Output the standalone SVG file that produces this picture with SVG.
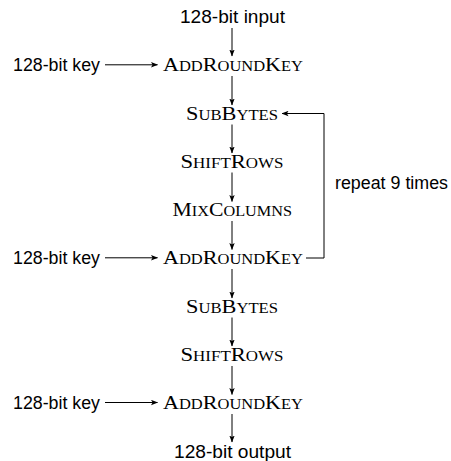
<svg xmlns="http://www.w3.org/2000/svg" width="451" height="461" viewBox="0 0 451 461">
<defs>
<style>
.sans{font-family:"Liberation Sans",Arial,sans-serif;font-size:18.3px;fill:#000}
.sc{font-family:"Liberation Serif","Times New Roman",serif;font-size:19px;fill:#000}
.sm{font-size:14.2px}
.conn path{fill:none;stroke:#000;stroke-width:1}
</style>
<marker id="ah" viewBox="0 0 7 6" markerWidth="7" markerHeight="6" refX="6.5" refY="3" orient="auto" markerUnits="userSpaceOnUse">
<path d="M0,0.3 L7,3 L0,5.7 L1.6,3 Z" fill="#000"/>
</marker>
</defs>
<rect width="451" height="461" fill="#fff"/>
<g id="connectors" class="conn">
<path d="M232,28 V56" marker-end="url(#ah)"/>
<path d="M232,76 V105" marker-end="url(#ah)"/>
<path d="M232,124.5 V153" marker-end="url(#ah)"/>
<path d="M232,172.5 V201.5" marker-end="url(#ah)"/>
<path d="M232,221 V249.5" marker-end="url(#ah)"/>
<path d="M232,269 V298" marker-end="url(#ah)"/>
<path d="M232,317.5 V346" marker-end="url(#ah)"/>
<path d="M232,366 V394.5" marker-end="url(#ah)"/>
<path d="M232,414 V442" marker-end="url(#ah)"/>
<path d="M105,64.8 H157.5" marker-end="url(#ah)"/>
<path d="M105,257.8 H157.5" marker-end="url(#ah)"/>
<path d="M105,402.5 H157.5" marker-end="url(#ah)"/>
<path d="M306,258 H324 V113.5 H282" marker-end="url(#ah)"/>
</g>
<g id="input"><text class="sans" x="180" y="22.7" textLength="105" lengthAdjust="spacingAndGlyphs">128-bit input</text></g>
<g id="key1"><text class="sans" x="13" y="71.3" textLength="87" lengthAdjust="spacingAndGlyphs">128-bit key</text></g>
<g id="addroundkey1"><text class="sc" x="163" y="71.3" textLength="140" lengthAdjust="spacingAndGlyphs">A<tspan class="sm">DD</tspan>R<tspan class="sm">OUND</tspan>K<tspan class="sm">EY</tspan></text></g>
<g id="subbytes1"><text class="sc" x="186" y="119.55" textLength="92" lengthAdjust="spacingAndGlyphs">S<tspan class="sm">UB</tspan>B<tspan class="sm">YTES</tspan></text></g>
<g id="shiftrows1"><text class="sc" x="180.5" y="167.8" textLength="103" lengthAdjust="spacingAndGlyphs">S<tspan class="sm">HIFT</tspan>R<tspan class="sm">OWS</tspan></text></g>
<g id="mixcolumns"><text class="sc" x="172.5" y="216.05" textLength="119.5" lengthAdjust="spacingAndGlyphs">M<tspan class="sm">IX</tspan>C<tspan class="sm">OLUMNS</tspan></text></g>
<g id="key2"><text class="sans" x="13" y="264.3" textLength="87" lengthAdjust="spacingAndGlyphs">128-bit key</text></g>
<g id="addroundkey2"><text class="sc" x="163" y="264.3" textLength="140" lengthAdjust="spacingAndGlyphs">A<tspan class="sm">DD</tspan>R<tspan class="sm">OUND</tspan>K<tspan class="sm">EY</tspan></text></g>
<g id="repeat"><text class="sans" x="335" y="188.7" textLength="113" lengthAdjust="spacingAndGlyphs">repeat 9 times</text></g>
<g id="subbytes2"><text class="sc" x="186" y="312.55" textLength="92" lengthAdjust="spacingAndGlyphs">S<tspan class="sm">UB</tspan>B<tspan class="sm">YTES</tspan></text></g>
<g id="shiftrows2"><text class="sc" x="180.5" y="360.8" textLength="103" lengthAdjust="spacingAndGlyphs">S<tspan class="sm">HIFT</tspan>R<tspan class="sm">OWS</tspan></text></g>
<g id="key3"><text class="sans" x="13" y="409.05" textLength="87" lengthAdjust="spacingAndGlyphs">128-bit key</text></g>
<g id="addroundkey3"><text class="sc" x="163" y="409.05" textLength="140" lengthAdjust="spacingAndGlyphs">A<tspan class="sm">DD</tspan>R<tspan class="sm">OUND</tspan>K<tspan class="sm">EY</tspan></text></g>
<g id="output"><text class="sans" x="174" y="457.5" textLength="117" lengthAdjust="spacingAndGlyphs">128-bit output</text></g>
</svg>
